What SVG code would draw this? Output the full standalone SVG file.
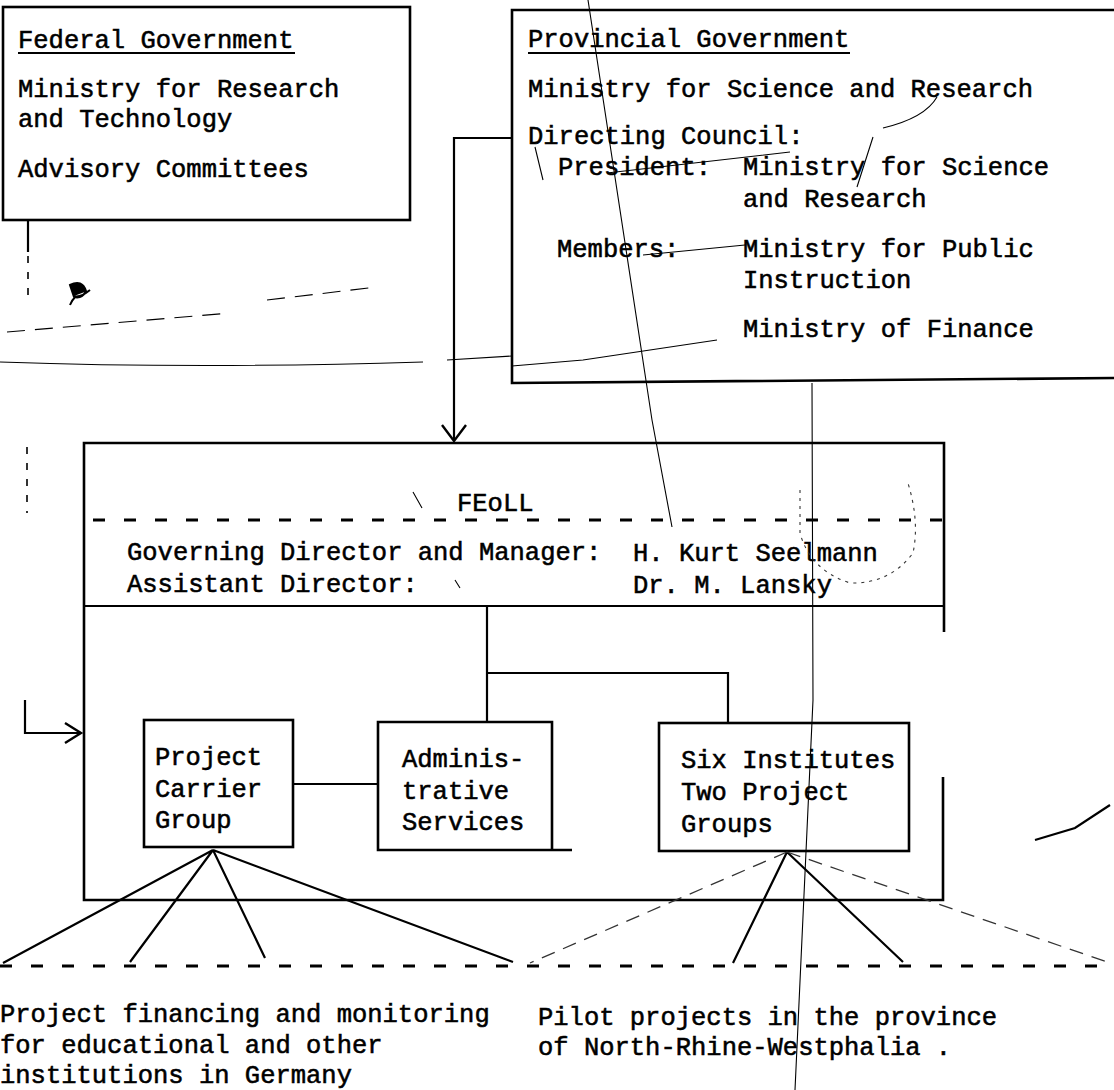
<svg xmlns="http://www.w3.org/2000/svg" width="1114" height="1090" viewBox="0 0 1114 1090">
<style>
text{font-family:"Liberation Mono","Courier New",monospace;font-size:25.5px;fill:#000;stroke:#000;stroke-width:0.55}
.box{fill:none;stroke:#000;stroke-width:2.6}
.ln{fill:none;stroke:#000;stroke-width:2.2}
.arr{fill:none;stroke:#000;stroke-width:2.4;stroke-linejoin:miter}
.dash{fill:none;stroke:#000;stroke-width:3;stroke-dasharray:12 19}
.brk{fill:none;stroke:#000;stroke-width:1.6;stroke-dasharray:7 9}
.thin{fill:none;stroke:#000;stroke-width:1.1}
.dot{fill:none;stroke:#333;stroke-width:1.1;stroke-dasharray:3 5}
.faint{fill:none;stroke:#333;stroke-width:1.3;stroke-dasharray:14 9}
</style>
<rect width="1114" height="1090" fill="#fff"/>

<g id="federal">
<rect class="box" x="3" y="7" width="407" height="213"/>
<text x="18" y="48">Federal Government</text>
<line class="ln" x1="18" y1="53" x2="295" y2="53"/>
<text x="18" y="97">Ministry for Research</text>
<text x="18" y="127">and Technology</text>
<text x="18" y="177">Advisory Committees</text>
</g>

<g id="provincial">
<path class="box" d="M1116,10 L512,10 L512,383 L1116,378"/>
<text x="528" y="47">Provincial Government</text>
<line class="ln" x1="528" y1="53" x2="850" y2="53"/>
<text x="528" y="97">Ministry for Science and Research</text>
<text x="528" y="144">Directing Council:</text>
<text x="558" y="175">President:</text>
<text x="743" y="175">Ministry for Science</text>
<text x="743" y="207">and Research</text>
<text x="557" y="257">Members:</text>
<text x="743" y="257">Ministry for Public</text>
<text x="743" y="288">Instruction</text>
<text x="743" y="337">Ministry of Finance</text>
</g>

<g id="feoll">
<path class="box" d="M943,777 L943,900 L84,900 L84,443 L944,443 L944,632"/>
<line class="ln" x1="84" y1="606" x2="944" y2="606"/>
<line class="dash" x1="93" y1="520" x2="942" y2="520"/>
<text x="457" y="511">FEoLL</text>
<text x="127" y="560">Governing Director and Manager:</text>
<text x="633" y="561">H. Kurt Seelmann</text>
<text x="127" y="592">Assistant Director:</text>
<text x="633" y="593">Dr. M. Lansky</text>
</g>

<g id="project-carrier">
<rect class="box" x="144" y="720" width="149" height="127"/>
<text x="155" y="765">Project</text>
<text x="155" y="797">Carrier</text>
<text x="155" y="828">Group</text>
</g>

<g id="administrative">
<path class="box" d="M552,850 L552,722 L378,722 L378,850 L572,850"/>
<text x="402" y="767">Adminis-</text>
<text x="402" y="799">trative</text>
<text x="402" y="830">Services</text>
</g>

<g id="institutes">
<rect class="box" x="659" y="723" width="250" height="128"/>
<text x="681" y="768">Six Institutes</text>
<text x="681" y="800">Two Project</text>
<text x="681" y="832">Groups</text>
</g>

<g id="outcomes">
<line class="dash" x1="0" y1="966" x2="1114" y2="966"/>
<text x="0" y="1022">Project financing and monitoring</text>
<text x="0" y="1053">for educational and other</text>
<text x="0" y="1083">institutions in Germany</text>
<text x="538" y="1025">Pilot projects in the province</text>
<text x="538" y="1055">of North-Rhine-Westphalia .</text>
</g>

<g id="connectors">
<path class="ln" d="M28,220 L28,252"/>
<path class="brk" d="M28,256 L28,300"/>
<path class="brk" d="M27,447 L27,513"/>
<path class="ln" d="M25,700 L25,733 L80,733"/>
<polyline class="arr" points="65,723 81,733 65,743"/>
<path class="ln" d="M512,138 L454,138 L454,440"/>
<polyline class="arr" points="442,425 454,441 466,425"/>
<path class="ln" d="M487,606 L487,722 M487,673 L728,673 L728,723"/>
<path class="ln" d="M293,784 L378,784"/>
<path class="ln" d="M213,850 L3,963 M213,850 L130,962 M213,850 L265,958 M213,850 L513,962"/>
<path class="ln" d="M787,852 L733,963 M787,852 L903,962"/>
<path class="faint" d="M787,852 L530,963 M787,852 L1110,963"/>
</g>

<g id="scan-marks">
<path class="thin" d="M0,362 Q200,369 423,362"/>
<path class="thin" d="M447,360 L512,356 M512,366 L583,360 L717,340"/>
<path class="thin" stroke-dasharray="18 10" d="M7,332 L230,313 M267,300 L377,287"/>
<path class="thin" d="M812,383 L813,700 L795,1090"/>
<path class="thin" d="M588,0 L652,420 L672,527"/>
<path class="thin" d="M937,97 Q925,118 883,128 M873,137 L857,187 M607,173 L790,152 M643,255 L745,245"/>
<path class="thin" d="M535,147 L543,180 M413,492 L422,508 M455,580 L460,588"/>
<path class="dot" d="M800,490 L800,533 Q810,570 850,583 Q890,584 913,553 Q920,520 907,480"/>
<path d="M70,285 q12,-6 16,6 q-4,8 -12,6 z M74,296 q6,2 16,-6 M76,296 q-4,4 -6,9" fill="#000" stroke="#000" stroke-width="2"/>
<path class="ln" d="M1035,840 L1075,828 L1110,805"/>
</g>
</svg>
